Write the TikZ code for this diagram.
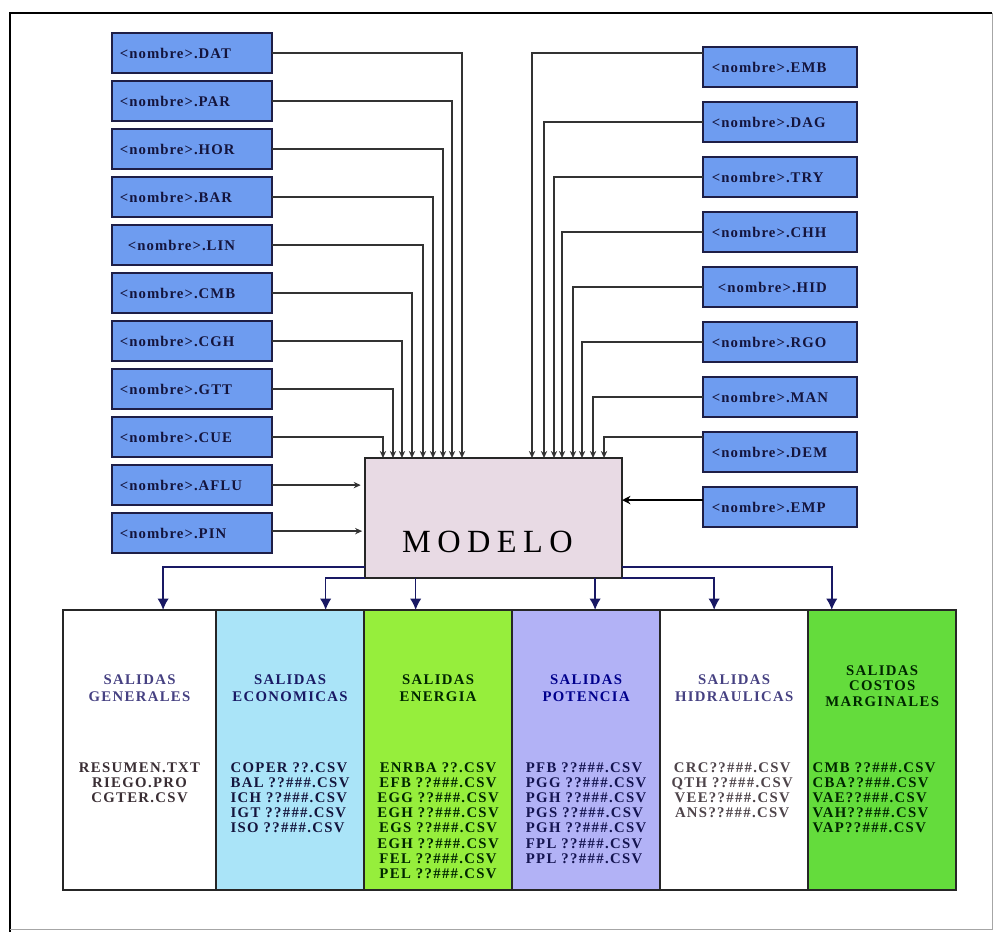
\documentclass[tikz,border=0pt]{standalone}
\usepackage{fontspec}
\setmainfont{Liberation Serif}
\newfontfamily\boxfont[LetterSpace=7]{Liberation Serif}
\newfontfamily\listfont[LetterSpace=9]{Liberation Serif}
\newfontfamily\modelfont[LetterSpace=20]{Liberation Serif}
\usetikzlibrary{arrows.meta,positioning}
\definecolor{boxblue}{RGB}{110,156,240}
\definecolor{boxline}{RGB}{30,30,70}
\definecolor{labelnavy}{RGB}{20,20,60}
\definecolor{modelpink}{RGB}{232,218,228}
\definecolor{econblue}{RGB}{170,228,248}
\definecolor{energreen}{RGB}{150,238,60}
\definecolor{potlav}{RGB}{178,178,246}
\definecolor{costgreen}{RGB}{100,220,60}
\definecolor{outnavy}{RGB}{25,25,100}
\definecolor{titlepurple}{RGB}{70,65,130}
\definecolor{listgrey}{RGB}{58,46,52}
\definecolor{listgreylight}{RGB}{78,68,74}

\begin{document}
\begin{tikzpicture}[
    x=0.025cm, y=-0.025cm,
    infile/.style={rectangle, draw=boxline, line width=1.1pt, fill=boxblue,
        minimum width=4cm, minimum height=1cm, text width=3.6cm, align=left,
        font=\boxfont\bfseries\fontsize{10.5}{12}\selectfont, text=labelnavy, outer sep=0pt},
    infileR/.style={infile, minimum width=3.85cm, text width=3.4cm},
    modelbox/.style={rectangle, draw=black!85, line width=1.1pt, fill=modelpink,
        minimum width=6.425cm, minimum height=3cm, outer sep=0pt},
    outcol/.style={rectangle, draw=black!85, line width=1.1pt,
        minimum width=3.7cm, minimum height=7cm, outer sep=0pt},
    coltitle/.style={align=center, inner sep=0pt,
        font=\listfont\bfseries\fontsize{10.5}{12}\selectfont},
    collist/.style={align=center, inner sep=0pt, anchor=north,
        font=\listfont\bfseries\fontsize{10.5}{10.8}\selectfont},
    feed/.style={draw=black!80, line width=0.9pt, -{Stealth[length=5pt,width=4.5pt]}},
    feedthick/.style={draw=black, line width=1.8pt, -{Stealth[length=6pt,width=6pt]}},
    outarrow/.style={draw=outnavy, line width=1.1pt, -{Latex[length=8pt,width=8pt]}}
]
\useasboundingbox (0,0) rectangle (994,932);
% frame
\draw[line width=1.6pt] (10,932) -- (10,13) -- (992,13);
\draw[black!35, line width=0.6pt] (992,13) -- (992,929) -- (10,929);

% input files, left
\node[infile] (dat) at (192,53) {<nombre>.DAT};
\node[infile, below=0.2cm of dat] (par) {<nombre>.PAR};
\node[infile, below=0.2cm of par] (hor) {<nombre>.HOR};
\node[infile, below=0.2cm of hor] (bar) {<nombre>.BAR};
\node[infile, below=0.2cm of bar] (lin) {\hspace{0.2cm}<nombre>.LIN};
\node[infile, below=0.2cm of lin] (cmb) {<nombre>.CMB};
\node[infile, below=0.2cm of cmb] (cgh) {<nombre>.CGH};
\node[infile, below=0.2cm of cgh] (gtt) {<nombre>.GTT};
\node[infile, below=0.2cm of gtt] (cue) {<nombre>.CUE};
\node[infile, below=0.2cm of cue] (aflu) {<nombre>.AFLU};
\node[infile, below=0.2cm of aflu] (pin) {<nombre>.PIN};

% input files, right
\node[infileR] (emb) at (780,67) {<nombre>.EMB};
\node[infileR, below=0.375cm of emb] (dag) {<nombre>.DAG};
\node[infileR, below=0.375cm of dag] (try) {<nombre>.TRY};
\node[infileR, below=0.375cm of try] (chh) {<nombre>.CHH};
\node[infileR, below=0.375cm of chh] (hid) {\hspace{0.15cm}<nombre>.HID};
\node[infileR, below=0.375cm of hid] (rgo) {<nombre>.RGO};
\node[infileR, below=0.375cm of rgo] (man) {<nombre>.MAN};
\node[infileR, below=0.375cm of man] (dem) {<nombre>.DEM};
\node[infileR, below=0.375cm of dem] (emp) {<nombre>.EMP};

% model
\node[modelbox] (model) at (493.5,518) {};
\node[font=\modelfont\fontsize{23}{26}\selectfont, inner sep=0pt] (modeltxt)
    at ([xshift=-0.15cm, yshift=-0.6cm]model.center) {MODELO};

\coordinate (pinout) at ([yshift=0.05cm]pin.east);
\coordinate (embout) at ([yshift=0.35cm]emb.west);
\coordinate (demout) at ([yshift=0.375cm]dem.west);
\coordinate (empout) at ([yshift=0.175cm]emp.west);

\draw[feed] (dat.east) -| ([xshift=2.425cm]model.north west);
\draw[feed] (par.east) -| ([xshift=2.175cm]model.north west);
\draw[feed] (hor.east) -| ([xshift=1.95cm]model.north west);
\draw[feed] (bar.east) -| ([xshift=1.7cm]model.north west);
\draw[feed] (lin.east) -| ([xshift=1.45cm]model.north west);
\draw[feed] (cmb.east) -| ([xshift=1.175cm]model.north west);
\draw[feed] (cgh.east) -| ([xshift=0.925cm]model.north west);
\draw[feed] (gtt.east) -| ([xshift=0.7cm]model.north west);
\draw[feed] (cue.east) -| ([xshift=0.45cm]model.north west);
\draw[feed, shorten >=3pt] (aflu.east) -- (model.west |- aflu.east);
\draw[feed, shorten >=2pt] (pinout) -- (model.west |- pinout);

\draw[feed] (embout) -| ([xshift=4.175cm]model.north west);
\draw[feed] (dag.west) -| ([xshift=4.475cm]model.north west);
\draw[feed] (try.west) -| ([xshift=4.725cm]model.north west);
\draw[feed] (chh.west) -| ([xshift=4.925cm]model.north west);
\draw[feed] (hid.west) -| ([xshift=5.2cm]model.north west);
\draw[feed] (rgo.west) -| ([xshift=5.425cm]model.north west);
\draw[feed] (man.west) -| ([xshift=5.7cm]model.north west);
\draw[feed] (demout) -| ([xshift=5.975cm]model.north west);
\draw[feedthick] (empout) -- (model.east |- empout);

% output columns
\node[outcol, fill=white, minimum width=3.825cm] (gen) at (139.5,750) {};
\node[outcol, fill=econblue, right=0cm of gen] (eco) {};
\node[outcol, fill=energreen, right=0cm of eco] (ene) {};
\node[outcol, fill=potlav, right=0cm of ene] (pot) {};
\node[outcol, fill=white, right=0cm of pot] (hidr) {};
\node[outcol, fill=costgreen, right=0cm of hidr] (cos) {};

\node[coltitle, text=titlepurple] (genT) at ([yshift=-1.95cm]gen.north) {SALIDAS\\GENERALES};
\node[coltitle, text=outnavy] (ecoT) at ([yshift=-1.95cm]eco.north) {SALIDAS\\ECONOMICAS};
\node[coltitle, text=black!85!green] (eneT) at ([yshift=-1.95cm]ene.north) {SALIDAS\\ENERGIA};
\node[coltitle, text=blue!55!black] (potT) at ([yshift=-1.95cm]pot.north) {SALIDAS\\POTENCIA};
\node[coltitle, text=titlepurple] (hidrT) at ([yshift=-1.95cm]hidr.north) {SALIDAS\\HIDRAULICAS};
\node[coltitle, text=black!85!green, font=\listfont\bfseries\fontsize{10.5}{11}\selectfont] (cosT)
    at ([yshift=-1.9cm]cos.north) {SALIDAS\\COSTOS\\MARGINALES};

\node[collist, text=listgrey] (genL)
    at ([yshift=-3.8cm]gen.north) {RESUMEN.TXT\\RIEGO.PRO\\CGTER.CSV};
\node[collist, align=left, text=labelnavy] (ecoL) at ([yshift=-3.8cm]eco.north)
    {COPER ??.CSV\\BAL ??\#\#\#.CSV\\ICH ??\#\#\#.CSV\\IGT ??\#\#\#.CSV\\ISO ??\#\#\#.CSV};
\node[collist, text=black!85!green] (eneL) at ([yshift=-3.8cm]ene.north)
    {ENRBA ??.CSV\\EFB ??\#\#\#.CSV\\EGG ??\#\#\#.CSV\\EGH ??\#\#\#.CSV\\EGS ??\#\#\#.CSV\\EGH ??\#\#\#.CSV\\FEL ??\#\#\#.CSV\\PEL ??\#\#\#.CSV};
\node[collist, align=left, text=outnavy!80!black] (potL) at ([yshift=-3.8cm]pot.north)
    {PFB ??\#\#\#.CSV\\PGG ??\#\#\#.CSV\\PGH ??\#\#\#.CSV\\PGS ??\#\#\#.CSV\\PGH ??\#\#\#.CSV\\FPL ??\#\#\#.CSV\\PPL ??\#\#\#.CSV};
\node[collist, text=listgreylight] (hidrL)
    at ([xshift=-0.05cm, yshift=-3.8cm]hidr.north) {CRC??\#\#\#.CSV\\QTH ??\#\#\#.CSV\\VEE??\#\#\#.CSV\\ANS??\#\#\#.CSV};
\node[collist, align=left, text=black!85!green] (cosL) at ([xshift=-0.2cm, yshift=-3.8cm]cos.north)
    {CMB ??\#\#\#.CSV\\CBA??\#\#\#.CSV\\VAE??\#\#\#.CSV\\VAH??\#\#\#.CSV\\VAP??\#\#\#.CSV};

% model outputs
\draw[outarrow] ([yshift=0.275cm]model.south west) -| ([xshift=0.59cm]gen.north);
\draw[outarrow] (model.south west) -| ([xshift=0.89cm]eco.north);
\draw[outarrow] ([xshift=-0.56cm]ene.north |- model.south) -- ([xshift=-0.56cm]ene.north);
\draw[outarrow] ([xshift=0.225cm]pot.north |- model.south) -- ([xshift=0.225cm]pot.north);
\draw[outarrow] (model.south east) -| ([xshift=-0.5cm]hidr.north);
\draw[outarrow] ([yshift=0.275cm]model.south east) -| ([xshift=-1.26cm]cos.north);
\end{tikzpicture}
\end{document}
